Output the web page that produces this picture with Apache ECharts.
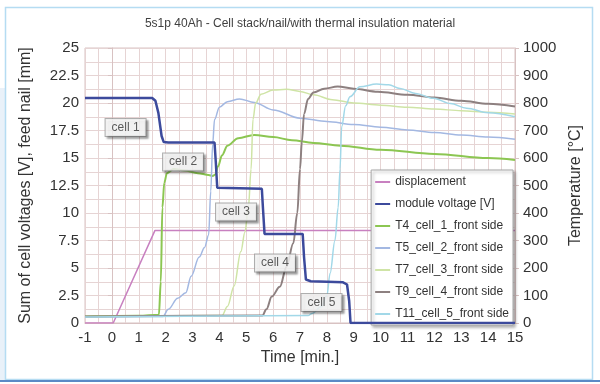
<!DOCTYPE html>
<html>
<head>
<meta charset="utf-8">
<script src="https://cdn.jsdelivr.net/npm/echarts@6/dist/echarts.min.js"></script>
<style>html,body{margin:0;padding:0;background:#fff}#c{width:600px;height:384px}</style>
</head>
<body>
<div id="c"></div>
<script>
// ---- data (time in minutes) ----
const title = '5s1p 40Ah - Cell stack/nail/with thermal insulation material';
const seriesNames = ['displacement','module voltage [V]','T4_cell_1_front side','T5_cell_2_front side','T7_cell_3_front side','T9_cell_4_front side','T11_cell_5_front side'];
const seriesColors = ['#c880c0','#3c4a9c','#8cc652','#a3b8e2','#cfe4a6','#8d8080','#a2d8e8'];

const displacement = [[-1,0],[0.05,0],[1.6,8.4],[15,8.4]];
const moduleVoltage = [[-1,20.45],[1.5,20.45],[1.62,20.2],[1.73,19.1],[1.85,17.0],[1.93,16.45],[2.1,16.4],[3.82,16.4],[3.87,14.5],[3.92,12.3],[5.58,12.2],[5.62,10.5],[5.68,8.1],[7.1,8.1],[7.15,6],[7.22,3.95],[7.4,3.8],[8.0,3.75],[8.6,3.7],[8.75,3.5],[8.83,2],[8.88,0],[15,0]];
const t4 = [[-1,24],[1.0,26],[1.75,30],[1.82,150],[1.88,420],[1.95,510],[2.05,545],[2.3,560],[2.7,555],[3.2,545],[3.6,538],[3.75,535],[3.85,540],[3.95,570],[4.1,610],[4.3,645],[4.7,672],[5.3,684],[6.0,676],[6.7,665],[7.5,655],[8.5,645],[10,630],[12,615],[14,600],[15,593]];
const t5 = [[-1,22],[1.9,24],[2.1,50],[2.45,90],[2.75,110],[2.95,170],[3.25,240],[3.45,275],[3.6,320],[3.68,480],[3.75,650],[3.82,740],[4.0,785],[4.3,805],[4.75,815],[5.3,802],[6.0,775],[7.0,745],[8.0,733],[9,722],[10,712],[11,702],[12,693],[13,684],[14,676],[15,668]];
const t7 = [[-1,24],[4.1,27],[4.3,60],[4.55,135],[4.8,260],[4.95,330],[5.08,420],[5.18,560],[5.25,740],[5.35,800],[5.55,832],[6.0,847],[6.5,850],[7.0,842],[7.5,830],[8.2,812],[9,800],[10,792],[11,785],[12,778],[13,772],[14,766],[15,760]];
const t9 = [[-1,24],[5.6,27],[5.75,50],[5.95,96],[6.25,132],[6.5,205],[6.75,290],[6.9,400],[7.0,560],[7.07,660],[7.15,760],[7.3,815],[7.5,838],[7.9,852],[8.4,860],[9.0,852],[9.9,841],[11,830],[12,820],[13,808],[14,797],[15,787]];
const t11 = [[-1,22],[7.3,27],[7.45,35],[7.8,60],[8.0,100],[8.12,181],[8.3,300],[8.42,420],[8.49,560],[8.55,714],[8.7,790],[8.86,823],[9.23,859],[9.85,869],[10.3,866],[10.72,853],[11.3,835],[11.96,817],[12.6,798],[13.2,781],[14,765],[15,750]];

const cellLabels = ['cell 1','cell 2','cell 3','cell 4','cell 5'];
const cellLabelTime = [0.51,2.65,4.62,6.07,7.8];
const cellLabelValue = [17.77,14.64,10.09,5.45,1.86];

const xMin = -1, xMax = 15, xStep = 1;
const yMin = 0, yMax = 25, yStep = 2.5;
const tMin = 0, tMax = 1000, tStep = 100;

// ---- chart ----
const grid = '#e6d4d4';
const axisCol = '#d8c2c2';
const FONT = 'Liberation Sans';
const chart = echarts.init(document.getElementById('c'), null, {renderer:'canvas'});
const temps = [t4,t5,t7,t9,t11];
const widths = [2,1.5,1.5,2,1.5];
const series = [
  {name:seriesNames[0], type:'line', data:displacement, yAxisIndex:0, showSymbol:false, lineStyle:{width:1.5,color:seriesColors[0]}, itemStyle:{color:seriesColors[0]}, z:3},
];
temps.forEach((d,i)=>{
  series.push({name:seriesNames[i+2], type:'line', data:d, yAxisIndex:1, showSymbol:false, smooth:0.35, smoothMonotone:'x',
    lineStyle:{width:widths[i], color:seriesColors[i+2]}, itemStyle:{color:seriesColors[i+2]}, z:3});
});
series.push({name:seriesNames[1], type:'line', data:moduleVoltage, yAxisIndex:0, showSymbol:false, lineStyle:{width:2.5,color:seriesColors[1]}, itemStyle:{color:seriesColors[1]}, z:4});
series.push({name:'labels', type:'scatter', yAxisIndex:0, symbolSize:1, itemStyle:{color:'rgba(0,0,0,0)'}, z:8,
  data: cellLabels.map((n,i)=>({name:n, value:[cellLabelTime[i], cellLabelValue[i]]})),
  label:{show:true, position:'inside', formatter:'{b}', fontFamily:FONT, fontSize:12, color:'#333',
    backgroundColor:'#fff', borderColor:'#9a9a9a', borderWidth:1, padding:[3,6,2,6],
    shadowColor:'rgba(0,0,0,0.35)', shadowBlur:2, shadowOffsetX:2, shadowOffsetY:2}
});

chart.setOption({
  animation:false,
  backgroundColor:'#fff',
  textStyle:{fontFamily:FONT},
  title:{text:title, left:'center', top:13, textStyle:{fontFamily:FONT, fontSize:12, fontWeight:'normal', color:'#404040'}},
  grid:{left:85, right:85, top:48, bottom:61, show:true, borderColor:axisCol, borderWidth:1, backgroundColor:'transparent'},
  legend:{data:seriesNames, orient:'vertical', right:87, top:170, padding:[5,4,4,4], itemGap:8, itemWidth:15, itemHeight:2, icon:'rect',
    backgroundColor:'#fff', borderColor:'#a8a8a8', borderWidth:1, shadowColor:'rgba(0,0,0,0.3)', shadowBlur:3, shadowOffsetX:2, shadowOffsetY:2,
    textStyle:{fontFamily:FONT, fontSize:12, color:'#333', lineHeight:14}},
  graphic:[
    {type:'rect', shape:{x:0, y:88, width:5, height:292}, style:{fill:'#e9f1f9'}, silent:true, z:-1},
    {type:'rect', shape:{x:5.5, y:7.5, width:587, height:372}, style:{fill:null, stroke:'#b5dcf2', lineWidth:1.5}, silent:true, z:-1},
    {type:'rect', shape:{x:0, y:380, width:600, height:2}, style:{fill:'#5a8ac6'}, silent:true, z:-1}
  ],
  xAxis:{type:'value', min:xMin, max:xMax, interval:xStep,
    name:'Time [min.]', nameLocation:'middle', nameGap:26, nameTextStyle:{fontFamily:FONT, fontSize:16, color:'#333'},
    axisLine:{show:true, lineStyle:{color:axisCol}}, axisTick:{show:false},
    axisLabel:{fontFamily:FONT, fontSize:15, color:'#333', margin:7},
    splitLine:{show:true, lineStyle:{color:grid, width:1}},
    minorTick:{show:false, splitNumber:2}, minorSplitLine:{show:true, lineStyle:{color:grid, width:1}}},
  yAxis:[
    {type:'value', min:yMin, max:yMax, interval:yStep, position:'left',
      name:'Sum of cell voltages [V], feed nail [mm]', nameLocation:'middle', nameGap:51, nameTextStyle:{fontFamily:FONT, fontSize:16, color:'#333'},
      axisLine:{show:true, lineStyle:{color:axisCol}}, axisTick:{show:true, length:4, lineStyle:{color:axisCol}},
      axisLabel:{fontFamily:FONT, fontSize:15, color:'#333', margin:6, formatter:v=>String(v)},
      splitLine:{show:true, lineStyle:{color:grid}},
      minorTick:{show:false, splitNumber:2}, minorSplitLine:{show:true, lineStyle:{color:grid}}},
    {type:'value', min:tMin, max:tMax, interval:tStep, position:'right',
      name:'Temperature [°C]', nameLocation:'middle', nameGap:50, nameRotate:90, nameTextStyle:{fontFamily:FONT, fontSize:16, color:'#333'},
      axisLine:{show:true, lineStyle:{color:axisCol}}, axisTick:{show:true, length:4, lineStyle:{color:axisCol}},
      axisLabel:{fontFamily:FONT, fontSize:15, color:'#333', margin:8, formatter:v=>String(v)},
      splitLine:{show:false}}
  ],
  series: series
});
</script>
</body>
</html>
